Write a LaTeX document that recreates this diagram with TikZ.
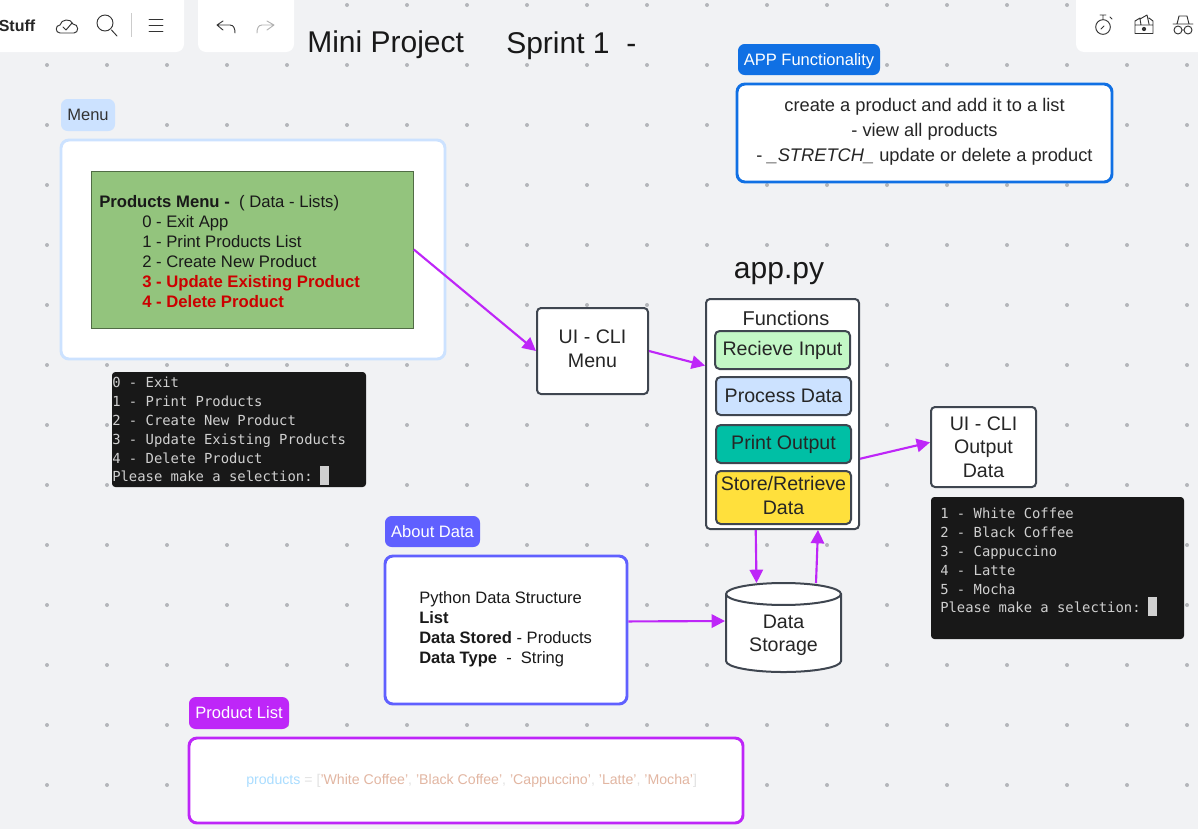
\documentclass[tikz,border=0pt]{standalone}
\usepackage{fontspec}
\setmainfont{Liberation Sans}
\setmonofont{DejaVu Sans Mono}
\usetikzlibrary{arrows.meta}
\usetikzlibrary{shapes.geometric}
\definecolor{canvas}{HTML}{F1F2F4}
\definecolor{griddot}{HTML}{B4B6BA}
\definecolor{edgegrey}{HTML}{3F4650}
\definecolor{flow}{HTML}{BE26F8}
\definecolor{paleblue}{HTML}{CCE2FF}
\definecolor{appblue}{HTML}{1070E4}
\definecolor{datablue}{HTML}{6060FF}
\definecolor{termblack}{HTML}{181818}
\definecolor{termtext}{HTML}{D0D0D0}
\definecolor{sheetgreen}{HTML}{93C47D}
\definecolor{recvgreen}{HTML}{C3F8C6}
\definecolor{printteal}{HTML}{00BFA5}
\definecolor{storeyellow}{HTML}{FFE03C}
\definecolor{codeblue}{HTML}{AADDFF}
\definecolor{codegrey}{HTML}{E2E2E2}
\definecolor{codestr}{HTML}{E2B6A2}
\definecolor{menured}{HTML}{CC0000}

\begin{document}
\begin{tikzpicture}[x=0.75pt,y=-0.75pt]
    \tikzset{
      sz/.style n args={2}{minimum width=#1*0.75pt, minimum height=#2*0.75pt, inner sep=0pt},
      flowbox/.style={draw=edgegrey, fill=white, line width=1.5pt, rounded corners=3pt, align=center, text=black!85,
        font=\fontsize{14.7}{17.6}\selectfont},
      fnbox/.style={flowbox, rounded corners=3.5pt},
      tag/.style={rounded corners=5pt, font=\fontsize{12.4}{15}\selectfont},
      panel/.style={draw, fill=white, line width=2.2pt, rounded corners=6pt},
      term/.style={fill=termblack, rounded corners=2.5pt},
      termtxt/.style={anchor=north west, align=left, inner sep=0pt, text=termtext,
        font=\ttfamily\fontsize{10.4}{14.1}\selectfont},
      bodytxt/.style={anchor=north west, align=left, inner sep=0pt, text=black!90},
      bar/.style={fill=white, rounded corners=6pt},
      icon/.style={draw=black!80, line width=0.7pt, line cap=round, line join=round},
      line/.style={draw=flow, line width=1.6pt, -{Triangle[length=10pt,width=10pt]}}
    }
    \clip (0,0) rectangle (1198,829);
    \fill[canvas] (0,0) rectangle (1198,829);
    \foreach \i in {0,...,19}
      \foreach \j in {0,...,13}
        \fill[griddot] (47+60*\i,5+60*\j) circle (1.5pt);

    % toolbars
    \fill[bar] (-20,-20) rectangle (184,52);
    \fill[bar] (198,-20) rectangle (294,52);
    \fill[bar] (1076,-20) rectangle (1220,52);
    \node[anchor=east, inner sep=0pt, text=black!85, font=\fontsize{12}{15}\bfseries\selectfont] (boardname) at (35.5,26) {Stuff};
    \draw[icon] (60,33) .. controls (55,33) and (55,25) .. (60,25) .. controls (61,19) and (71,18) .. (73,24) .. controls (79,24) and (79,33) .. (74,33) -- cycle;
    \draw[icon] (63,27) -- (66,30) -- (72,23);
    \draw[icon] (105,23) circle (6pt) (111.5,30) -- (117,36);
    \draw[black!20, line width=0.6pt] (131,13) -- (131,37);
    \draw[icon] (149,19) -- (163,19) (149,25) -- (163,25) (149,31) -- (163,31);
    \draw[icon] (223,21) -- (217,25) -- (223,30) (217,25) -- (230,25) .. controls (234,25) and (235,29) .. (235,33);
    \draw[icon, black!30] (267,21) -- (274,25) -- (267,30) (274,25) -- (262,25) .. controls (258,25) and (257,29) .. (257,33);
    \draw[icon] (1103,27) circle (5.5pt) (1100,15) -- (1106,15) (1103,15) -- (1103,19) (1110,17) -- (1112,19) (1101,29) -- (1104,26);
    \draw[icon] (1135,25) rectangle (1153,33.5) (1135,25) -- (1135,21) -- (1140,18) (1153,25) -- (1153,21) -- (1149,18) (1141,25) -- (1140,19) -- (1147,15) -- (1149,24);
    \fill[black!80] (1144,29) circle (1.6pt);
    \draw[icon] (1173,24) -- (1193,24) (1177,24) -- (1179,16) -- (1187,16) -- (1189,24) (1178,30) circle (3pt) (1188,30) circle (3pt) (1182,30) -- (1184,30);

    % titles
    \node[anchor=west, inner sep=0pt, text=black!90, font=\fontsize{22.5}{26}\selectfont] (title) at (307,45) {Mini Project};
    \node[anchor=west, inner sep=0pt, text=black!90, font=\fontsize{22.5}{26}\selectfont] (sprint) at (506,46) {Sprint 1\ \ -};
    \node[inner sep=0pt, text=black!90, font=\fontsize{22.5}{26}\selectfont] (apppy) at (779,274) {app.py};

    % menu
    \node[tag, sz={54}{32}, fill=paleblue, text=black!80] (menutag) at (88,115) {Menu};
    \node[panel, draw=paleblue, sz={384}{219}] (menupanel) at (253,249.5) {};
    \node[sz={322}{157}, fill=sheetgreen, draw=black!45!sheetgreen, line width=0.5pt] (menusheet) at (252.5,249.5) {};
    \node[bodytxt, font=\fontsize{12.5}{15}\selectfont] (menutxt) at (99,195) {\textbf{Products Menu -}\ \ ( Data - Lists)\\
      \hspace*{32.25pt}0 - Exit App\\
      \hspace*{32.25pt}1 - Print Products List\\
      \hspace*{32.25pt}2 - Create New Product\\
      \hspace*{32.25pt}\textcolor{menured}{\textbf{3 - Update Existing Product}}\\
      \hspace*{32.25pt}\textcolor{menured}{\textbf{4 - Delete Product}}};
    \node[term, sz={254}{115}] (menuterm) at (239,429.5) {};
    \node[termtxt] (menutermtxt) at (112,377) {0 - Exit\\1 - Print Products\\2 - Create New Product\\3 - Update Existing Products\\4 - Delete Product\\Please make a selection:};
    \node[fill=termtext, sz={9}{19}] (menucursor) at (324.5,475.5) {};

    % app functionality
    \node[tag, sz={142}{31}, fill=appblue, text=white, text depth=0pt] (apptag) at (809,59.5) {APP Functionality};
    \node[panel, draw=appblue, sz={375}{98}, align=center, text=black!85, text depth=4.4pt,
      font=\fontsize{13.7}{18.75}\selectfont] (apppanel) at (924.5,133) {create a product and add it to a list\\- view all products\\- \textit{\_STRETCH\_}\ update or delete a product};

    % flow
    \node[flowbox, sz={111}{86}, text depth=3.75pt] (climenu) at (592.5,351) {UI - CLI\\Menu};
    \node[flowbox, sz={153}{230}] (functions) at (782.5,414) {};
    \node[inner sep=0pt, text=black!85, font=\fontsize{15}{17.6}\selectfont] (fntitle) at (786,318) {Functions};
    \node[fnbox, sz={135}{38}, fill=recvgreen] (recieve) at (782.5,350) {Recieve Input};
    \node[fnbox, sz={135}{38}, fill=paleblue] (process) at (783.5,396) {Process Data};
    \node[fnbox, sz={135}{38}, fill=printteal] (printout) at (783.5,444) {Print Output};
    \node[fnbox, sz={135}{53}, fill=storeyellow, text depth=3pt] (store) at (783.5,497.5) {Store/Retrieve\\Data};
    \node[flowbox, sz={105}{80}] (cliout) at (983.5,447) {UI - CLI\\Output\\Data};
    \node[term, sz={253}{142}] (outterm) at (1057.5,568) {};
    \node[termtxt] (outtermtxt) at (940,508) {1 - White Coffee\\2 - Black Coffee\\3 - Cappuccino\\4 - Latte\\5 - Mocha\\Please make a selection:};
    \node[fill=termtext, sz={9}{19}] (outcursor) at (1152.5,606.5) {};
    \node[draw=edgegrey, fill=white, line width=1.5pt, cylinder, shape border rotate=90, aspect=0.32, anchor=shape center,
      sz={115}{89}, align=center, text=black!85, text height=30.5pt, font=\fontsize{14.7}{17.6}\selectfont] (storage) at (783.5,627.5) {Data\\Storage};

    % about data
    \node[tag, sz={95}{31}, fill=datablue, text=white] (datatag) at (432.5,531.5) {About Data};
    \node[panel, draw=datablue, sz={242}{148}] (datapanel) at (506,630) {};
    \node[bodytxt, font=\fontsize{12.4}{15}\selectfont] (datatxt) at (419,591) {Python Data Structure\\\textbf{List}\\\textbf{Data Stored} - Products\\\textbf{Data Type}\ \ -\ \ String};

    % product list
    \node[tag, sz={100}{32}, fill=flow, text=white] (listtag) at (239,713) {Product List};
    \node[panel, draw=flow, sz={554}{85}] (listpanel) at (466,780.5) {};
    \node[inner sep=0pt, anchor=west, font=\fontsize{10.6}{13}\selectfont] (listtxt) at (246,781) {\textcolor{codeblue}{products} \textcolor{codegrey}{= [}\textcolor{codestr}{'White Coffee'}\textcolor{codegrey}{,} \textcolor{codestr}{'Black Coffee'}\textcolor{codegrey}{,} \textcolor{codestr}{'Cappuccino'}\textcolor{codegrey}{,} \textcolor{codestr}{'Latte'}\textcolor{codegrey}{,} \textcolor{codestr}{'Mocha'}\textcolor{codegrey}{]}};

    \coordinate (storein) at (756.5,583);
    \coordinate (storeout) at (816,583);
    \coordinate (storeside) at (725,621);
    \path [line] (menusheet.east)--(climenu.west);
    \path [line] (climenu.east)--(functions.148);
    \path [line] (functions.-30)--(cliout.175);
    \path [line] (functions.-103.5)--(storein);
    \path [line] (storeout)--(functions.-73.7);
    \path [line] (datapanel.4.2)--(storeside);
\end{tikzpicture}
\end{document}
